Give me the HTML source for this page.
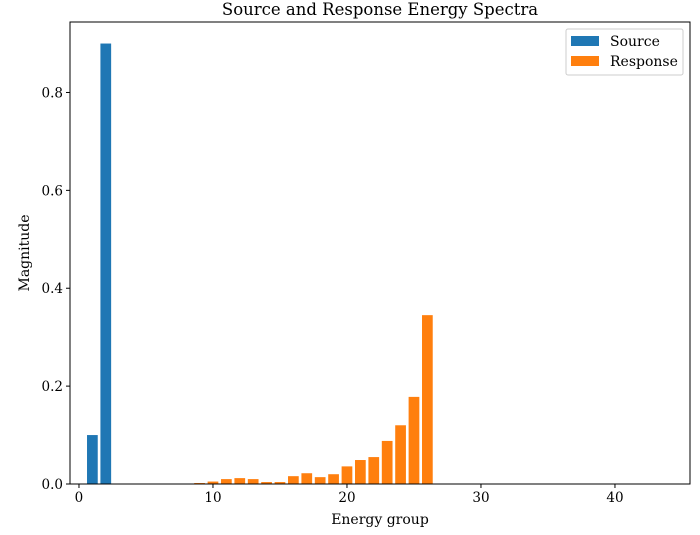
<!DOCTYPE html>
<html><head><meta charset="utf-8"><style>
body{margin:0;background:#fff;}
svg{font-family:"DejaVu Serif","Liberation Serif",serif;}
</style></head><body>
<svg id="chart" width="700" height="530"></svg>
<script>
const sourceGroups=[1,2];
const sourceValues=[0.1,0.9];
const responseGroups=[9,10,11,12,13,14,15,16,17,18,19,20,21,22,23,24,25,26];
const responseValues=[0.002,0.005,0.010,0.012,0.010,0.004,0.004,0.016,0.022,0.014,0.020,0.036,0.049,0.055,0.088,0.120,0.178,0.345];
const xTicks=[0,10,20,30,40];
const yTicks=[0.0,0.2,0.4,0.6,0.8];
const L=70,R=690,T=22,B=484;
const xmin=-0.67,xmax=45.6,ymin=0,ymax=0.944;
const sx=v=>L+(v-xmin)/(xmax-xmin)*(R-L);
const sy=v=>B-(v-ymin)/(ymax-ymin)*(B-T);
const svg=document.getElementById('chart');
const NS='http://www.w3.org/2000/svg';
function mk(tag,attrs,parent){const e=document.createElementNS(NS,tag);for(const k in attrs)e.setAttribute(k,attrs[k]);(parent||svg).appendChild(e);return e;}
function bars(groups,vals,color,name){
 groups.forEach((g,i)=>{
  const r=mk('rect',{x:sx(g-0.4),y:sy(vals[i]),width:sx(g+0.4)-sx(g-0.4),height:sy(0)-sy(vals[i]),fill:color});
  
  
 });
}
bars(sourceGroups,sourceValues,'#1f77b4','source');
bars(responseGroups,responseValues,'#ff7f0e','response');
const frame=mk('rect',{x:L,y:T,width:R-L,height:B-T,fill:'none',stroke:'#000','stroke-width':1});


xTicks.forEach(t=>{
 const x=sx(t);
 mk('line',{x1:x,x2:x,y1:B,y2:B+4,stroke:'#000'});
 const tx=mk('text',{x:x,y:B+18,'text-anchor':'middle','font-size':13.5});
 tx.textContent=t;
 
 
});
yTicks.forEach(t=>{
 const y=sy(t);
 mk('line',{x1:L-4,x2:L,y1:y,y2:y,stroke:'#000'});
 const tx=mk('text',{x:L-7,y:y+5,'text-anchor':'end','font-size':13.5});
 tx.textContent=t.toFixed(1);
 
 
});
</script>
<svg width="700" height="530" style="position:absolute;left:0;top:0">
<text x="380" y="15" text-anchor="middle" font-size="16.5">Source and Response Energy Spectra</text>
<text x="380" y="524" text-anchor="middle" font-size="14">Energy group</text>
<text x="29" y="253" text-anchor="middle" font-size="14" transform="rotate(-90 29 253)">Magnitude</text>
<g>
<rect x="566" y="29" width="117" height="46" fill="#fff" stroke="#ccc" rx="2"/>
<g><rect x="571" y="36" width="28" height="10" fill="#1f77b4"/><text x="610" y="46" font-size="14">Source</text></g>
<g><rect x="571" y="56" width="28" height="10" fill="#ff7f0e"/><text x="610" y="66" font-size="14">Response</text></g>
</g>
</svg>
</body></html>
